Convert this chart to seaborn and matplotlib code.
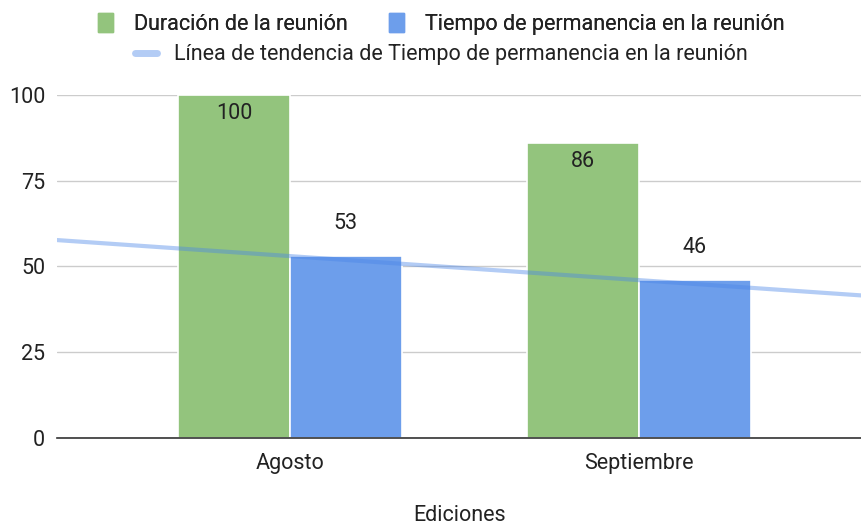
import numpy as np
import pandas as pd
import matplotlib
matplotlib.use("Agg")
import matplotlib.pyplot as plt
import seaborn as sns
from matplotlib.patches import Patch
from matplotlib.lines import Line2D

# data
ediciones = ["Agosto", "Septiembre"]
duracion = [100, 86]
permanencia = [53, 46]
series_names = ["Duración de la reunión", "Tiempo de permanencia en la reunión"]
trend_name = "Línea de tendencia de Tiempo de permanencia en la reunión"
y_ticks = [0, 25, 50, 75, 100]

green = "#93c47d"
blue = "#6d9eeb"
trend_col = "#4a86e8"
text_col = "#222222"
fs = 15.5

sns.set_theme(style="white")
plt.rcParams["font.family"] = ["Roboto", "DejaVu Sans"]

df = pd.DataFrame({
    "Ediciones": ediciones * 2,
    "valor": duracion + permanencia,
    "serie": [series_names[0]] * 2 + [series_names[1]] * 2,
})

fig = plt.figure(figsize=(8.62, 5.27), dpi=100)
ax = fig.add_axes([0.066, 0.169, 0.934, 0.651])

sns.barplot(data=df, x="Ediciones", y="valor", hue="serie",
            palette=[green, blue], width=0.64, saturation=1,
            edgecolor="white", linewidth=1.2, legend=False, ax=ax, zorder=2)

# labels: green inside near the top, blue above the bar
for i, cont in enumerate(ax.containers):
    for bar, v in zip(cont, [duracion, permanencia][i]):
        cx = bar.get_x() + bar.get_width() / 2
        y = v - 5.5 if i == 0 else v + 9.5
        ax.text(cx, y, str(v), ha="center", va="center", fontsize=fs, color=text_col, zorder=5)

# linear trend line of the second series over category positions
xs = np.arange(len(ediciones))
m, b = np.polyfit(xs, permanencia, 1)
xlim = (-0.668, 1.639)
xx = np.array(xlim)
ax.plot(xx, m * xx + b, color=trend_col, alpha=0.42, lw=3, zorder=3, solid_capstyle="butt")

ax.set_xlim(*xlim)
ax.set_ylim(0, 100)
ax.set_yticks(y_ticks)
ax.yaxis.grid(True, color="#cccccc", lw=1)
ax.set_axisbelow(True)
for s in ["top", "right", "left"]:
    ax.spines[s].set_visible(False)
ax.spines["bottom"].set_color("#333333")
ax.spines["bottom"].set_linewidth(1.2)
ax.spines["bottom"].set_zorder(4)
ax.tick_params(axis="both", length=0, labelsize=fs, colors=text_col)
ax.tick_params(axis="y", pad=8.5)
ax.tick_params(axis="x", pad=10.5)
ax.set_ylabel("")
ax.set_xlabel("Ediciones", fontsize=fs, color=text_col, labelpad=23)

h1 = [Patch(facecolor=green, edgecolor=green), Patch(facecolor=blue, edgecolor=blue)]
leg1 = fig.legend(h1, series_names, loc="center", bbox_to_anchor=(0.512, 0.954), ncol=2,
                  frameon=False, fontsize=fs, handlelength=0.7, handleheight=0.95,
                  columnspacing=1.9, handletextpad=1.0, labelcolor=text_col)
h2 = [Line2D([0], [0], color=trend_col, alpha=0.42, lw=5)]
fig.legend(h2, [trend_name], loc="center", bbox_to_anchor=(0.512, 0.896), frameon=False,
           fontsize=fs, handlelength=1.0, handletextpad=0.8, labelcolor=text_col)
fig.add_artist(leg1)

fig.savefig("out.png", dpi=100)
